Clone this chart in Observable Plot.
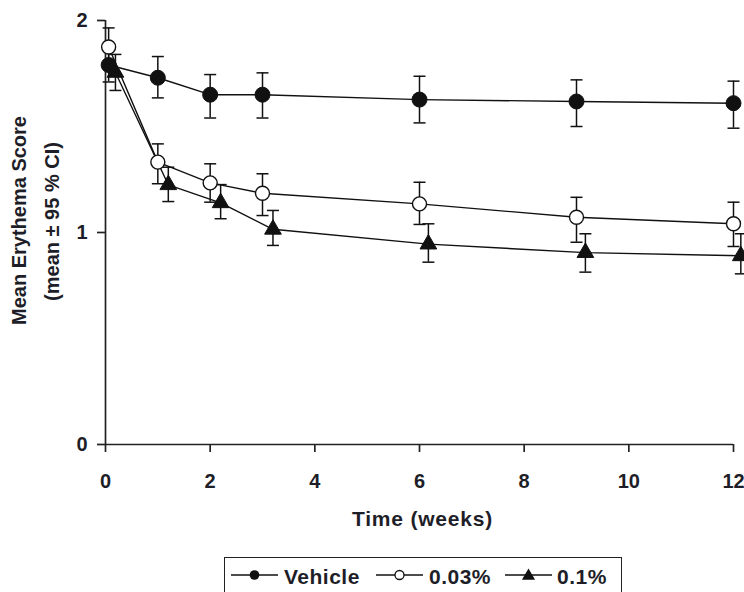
<!DOCTYPE html>
<html>
<head>
<meta charset="utf-8">
<script src="https://cdn.jsdelivr.net/npm/d3@7"></script>
<script src="https://cdn.jsdelivr.net/npm/@observablehq/plot@0.6"></script>
<style>
  body { margin: 0; background: #fff; font-family: "Liberation Sans", Arial, sans-serif; }
  #wrap { position: relative; width: 744px; height: 592px; overflow: hidden; background: #fff; }
  #chart svg { display: block; }
  #legend { position: absolute; left: 224px; top: 557px; width: 398px; height: 50px;
            border: 1.5px solid #222; box-sizing: border-box; background: #fff; }
  #legend .sw { position: absolute; top: 7px; }
  #legend .lb { position: absolute; top: 7.5px; font-size: 21px; line-height: 21px; font-weight: bold;
                color: #1e1e28; letter-spacing: 0.5px; white-space: nowrap; }
</style>
</head>
<body>
<div id="wrap">
  <div id="chart"></div>
  <div id="legend"></div>
</div>
<script>
// ---------- data ----------
const seriesNames = ["Vehicle", "0.03%", "0.1%"];

const vehicleWeeks = [0.06, 1, 2, 3, 6, 9, 12];
const vehicleMean  = [1.79, 1.73, 1.65, 1.65, 1.627, 1.618, 1.61];
const vehicleLo    = [1.71, 1.635, 1.54, 1.54, 1.517, 1.50, 1.492];
const vehicleHi    = [1.88, 1.83, 1.745, 1.753, 1.737, 1.72, 1.714];

const lowDoseWeeks = [0.06, 1, 2, 3, 6, 9, 12];
const lowDoseMean  = [1.875, 1.332, 1.234, 1.185, 1.135, 1.072, 1.041];
const lowDoseLo    = [1.79, 1.23, 1.143, 1.08, 1.038, 0.954, 0.934];
const lowDoseHi    = [1.965, 1.418, 1.324, 1.277, 1.237, 1.166, 1.143];

const highDoseWeeks = [0.19, 1.2, 2.2, 3.2, 6.17, 9.17, 12.14];
const highDoseMean  = [1.755, 1.225, 1.14, 1.015, 0.945, 0.905, 0.89];
const highDoseLo    = [1.67, 1.146, 1.065, 0.939, 0.86, 0.813, 0.805];
const highDoseHi    = [1.84, 1.308, 1.226, 1.104, 1.041, 0.994, 0.994];

const xTicks = [0, 2, 4, 6, 8, 10, 12];
const yTicks = [0, 1, 2];
const xTitle = "Time (weeks)";
const yTitle1 = "Mean Erythema Score";
const yTitle2 = "(mean ± 95 % CI)";

// ---------- build table ----------
const seriesData = [
  {name: seriesNames[0], weeks: vehicleWeeks, mean: vehicleMean, lo: vehicleLo, hi: vehicleHi},
  {name: seriesNames[1], weeks: lowDoseWeeks, mean: lowDoseMean, lo: lowDoseLo, hi: lowDoseHi},
  {name: seriesNames[2], weeks: highDoseWeeks, mean: highDoseMean, lo: highDoseLo, hi: highDoseHi}
];
const rows = seriesData.flatMap(s => s.weeks.map((w, i) => ({
  series: s.name, week: w, mean: s.mean[i], lo: s.lo[i], hi: s.hi[i]
})));
const bySeries = name => rows.filter(d => d.series === name);

const capSymbol = {
  draw(ctx, size) { const r = Math.sqrt(size / Math.PI); ctx.moveTo(-r, 0); ctx.lineTo(r, 0); }
};

const ink = "#111";
const textInk = "#1e1e28";
const fmt = d => String(d);

const chart = Plot.plot({
  width: 744,
  height: 540,
  marginLeft: 105,
  marginRight: 11,
  marginTop: 20,
  marginBottom: 96,
  x: {domain: [0, 12]},
  y: {domain: [0, 2]},
  style: {fontFamily: '"Liberation Sans", Arial, sans-serif', color: textInk, background: "white", overflow: "visible"},
  marks: [
    Plot.ruleX([0], {stroke: "#222", strokeWidth: 1.7}),
    Plot.ruleY([0], {stroke: "#222", strokeWidth: 1.7}),
    // tick marks (labels drawn separately below)
    Plot.axisX(xTicks, {tickSize: 8, tickFormat: () => "", label: null, stroke: "#222", strokeWidth: 1.7}),
    Plot.axisY(yTicks, {tickSize: 8, tickFormat: () => "", label: null, stroke: "#222", strokeWidth: 1.7}),
    // tick labels
    Plot.text(xTicks, {x: d => d, text: fmt, frameAnchor: "bottom", lineAnchor: "top", dy: 29,
      fontSize: 20, fontWeight: "bold", fill: textInk}),
    Plot.text(yTicks, {y: d => d, text: fmt, frameAnchor: "left", textAnchor: "end", lineAnchor: "middle", dx: -18,
      fontSize: 20, fontWeight: "bold", fill: textInk}),
    // connecting lines
    ...seriesNames.map(n => Plot.line(bySeries(n), {x: "week", y: "mean", stroke: ink, strokeWidth: 1.4})),
    // error bars
    Plot.ruleX(rows, {x: "week", y1: "lo", y2: "hi", stroke: ink, strokeWidth: 1.5}),
    Plot.dot(rows, {x: "week", y: "lo", symbol: capSymbol, r: 6, stroke: ink, strokeWidth: 1.5, fill: "none"}),
    Plot.dot(rows, {x: "week", y: "hi", symbol: capSymbol, r: 6, stroke: ink, strokeWidth: 1.5, fill: "none"}),
    // markers
    Plot.dot(bySeries(seriesNames[0]), {x: "week", y: "mean", r: 7.5, fill: ink, stroke: ink, strokeWidth: 1}),
    Plot.dot(bySeries(seriesNames[1]), {x: "week", y: "mean", r: 7, fill: "white", stroke: ink, strokeWidth: 1.4}),
    Plot.dot(bySeries(seriesNames[2]), {x: "week", y: "mean", r: 6.2, symbol: "triangle", fill: ink, stroke: ink, strokeWidth: 1}),
    // titles
    Plot.text([xTitle], {text: d => d, frameAnchor: "bottom", textAnchor: "middle", lineAnchor: "middle", dx: 3, dy: 75,
      fontSize: 21, fontWeight: "bold", fill: textInk}),
    Plot.text([yTitle1], {text: d => d, frameAnchor: "left", textAnchor: "middle", lineAnchor: "middle", rotate: -90,
      dx: -86, dy: -12, fontSize: 20, fontWeight: "bold", fill: textInk}),
    Plot.text([yTitle2], {text: d => d, frameAnchor: "left", textAnchor: "middle", lineAnchor: "middle", rotate: -90,
      dx: -53, dy: -11, fontSize: 20, fontWeight: "bold", fill: textInk})
  ]
});
document.getElementById("chart").appendChild(chart);

// letter spacing for the x title to match reference width
d3.select(chart).selectAll("text").filter(function() { return this.textContent === xTitle; })
  .attr("letter-spacing", "0.8px");

// ---------- legend ----------
const legend = document.getElementById("legend");
const legendLayout = [
  {swatchLeft: 5, textLeft: 59, kind: "filled"},
  {swatchLeft: 150, textLeft: 204, kind: "open"},
  {swatchLeft: 279, textLeft: 332, kind: "triangle"}
];
seriesNames.forEach((name, i) => {
  const L = legendLayout[i];
  const svg = d3.create("svg").attr("class", "sw").attr("width", 49).attr("height", 20)
    .style("left", L.swatchLeft + "px");
  svg.append("line").attr("x1", 1).attr("x2", 48).attr("y1", 10).attr("y2", 10)
    .attr("stroke", ink).attr("stroke-width", 1.6);
  if (L.kind === "filled") {
    svg.append("circle").attr("cx", 24.5).attr("cy", 10).attr("r", 4.8).attr("fill", ink);
  } else if (L.kind === "open") {
    svg.append("circle").attr("cx", 24.5).attr("cy", 10).attr("r", 4.5).attr("fill", "white")
      .attr("stroke", ink).attr("stroke-width", 1.3);
  } else {
    svg.append("path").attr("d", d3.symbol(d3.symbolTriangle, 75)())
      .attr("transform", "translate(24.5,11)").attr("fill", ink);
  }
  legend.appendChild(svg.node());
  const lb = document.createElement("div");
  lb.className = "lb";
  lb.style.left = L.textLeft + "px";
  lb.textContent = name;
  legend.appendChild(lb);
});
</script>
</body>
</html>
